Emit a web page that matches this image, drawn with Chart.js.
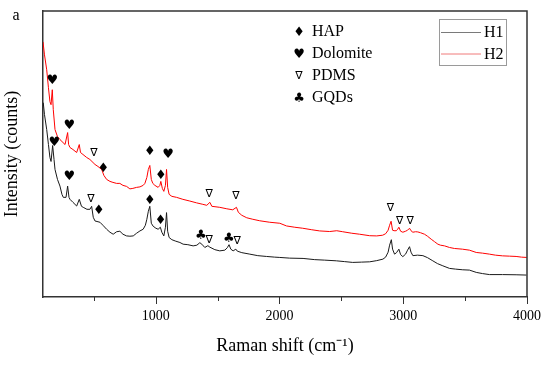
<!DOCTYPE html>
<html><head><meta charset="utf-8">
<script src="https://cdn.jsdelivr.net/npm/chart.js@4"></script>
<style>html,body{margin:0;padding:0;background:#fff}#wrap{width:550px;height:367px;position:relative}</style>
</head><body><div id="wrap"><canvas id="c" width="550" height="367"></canvas></div>
<script>
// ---- data (Raman shift in cm-1, intensity in arbitrary counts) ----
const h1Shift = [92,102,120,134,146,155,168,179,187,207,227,243,254,276,289,300,308,332,362,383,401,415,445,469,483,496,510,550,574,604,631,657,685,711,736,765,792,819,846,873,899,917,929,941,953,965,980,1002,1020,1038,1050,1066,1079,1088,1097,1109,1131,1163,1196,1222,1260,1303,1333,1357,1373,1397,1422,1438,1478,1518,1559,1579,1593,1607,1626,1648,1660,1696,1761,1825,1895,1962,2003,2083,2191,2285,2366,2460,2527,2592,2664,2729,2786,2836,2858,2878,2890,2904,2914,2930,2946,2965,2979,2997,3019,3035,3051,3063,3078,3116,3159,3196,3239,3277,3320,3374,3422,3481,3535,3590,3641,3697,3802,3912,3996];
const h1Intensity = [195,183,168,153,140,136,152,138,128,118,111.3,103,100,100,111.3,100,98,95,91.3,98,91,90,88,88,91,80,76.3,75,72,68,65,63,65.5,66,63,61.3,61,61.3,64,66.3,68,72,78,86,91,74,71,69,68,70,65,61.3,70,84.7,66,59.7,57.5,56,54.7,53,52.5,51.3,52,54.5,53,49.7,51.5,50,47.5,46.3,47,49.5,52.5,48,46.3,48,46,44.5,43,41.5,40.7,40,39.7,39,38.7,37.5,37,36.3,35.5,34.7,35,35.3,36.5,38,40,45,52,57.5,48,43,44.5,48,42.5,40.5,43,47,50.5,45,41.5,42,41.5,39.5,36.3,33.5,31.3,28.7,28,27.3,27,24.7,23.5,22.5,22.5,22.3,22];
const h2Shift = [90,102,120,134,146,155,165,173,187,207,227,268,289,297,308,332,362,383,393,413,443,469,510,534,564,582,604,631,655,685,711,736,765,792,816,846,873,899,913,929,941,953,965,977,994,1020,1034,1042,1054,1066,1079,1088,1097,1109,1131,1169,1220,1276,1330,1381,1413,1438,1454,1518,1575,1623,1653,1668,1696,1736,1785,1841,1922,2003,2057,2124,2188,2261,2325,2406,2463,2511,2584,2648,2729,2786,2834,2858,2878,2890,2902,2914,2926,2944,2955,2965,2979,2997,3019,3035,3051,3063,3078,3100,3118,3140,3172,3196,3226,3253,3280,3301,3334,3374,3414,3478,3535,3590,3641,3697,3745,3802,3858,3912,3955,3998];
const h2Intensity = [256,243,228,210,196,193,208,188,168,161,158,153,165,153,150,148,145,153,145,143,140,138,133,131,128,122,118,116,115,114,114,112,111,108.5,109,110,110.5,112,114,120,128,132,118,114,112,110,112,116,109,106,112,128,110,103,101,100,98,96.3,94.5,93,92,95,91,90,88.5,87.5,90,85,82,79.5,78,76.5,75,74,71.3,70,69,67.5,66.3,65.7,66.5,65.5,64,63,61.5,61.3,62,63.5,67,72,76,67,66.5,66.5,68,70,66,65,66,67,69,66.5,65,65.5,65.3,64.5,63,61,58,55.5,53,52,51.3,49.7,48.7,48,47,44.7,44,43,42,41.3,41,40.7,40,39.7];
const seriesNames = ['H1','H2'];
const xTickValues = [500,1000,1500,2000,2500,3000,3500,4000];
const xLabelValues = [1000,2000,3000,4000];
// band assignment markers (shift, height)
const hapShift = [577,953,1042,542,953,1040];
const hapLevel = [129,146.3,121.3,86.3,96.3,77];
const dolomiteShift = [165,302,1101,181,302];
const dolomiteLevel = [217,172.3,143,154.7,120.7];
const pdmsShift = [502,1432,1648,2896,2971,3057,477,1432,1658];
const pdmsLevel = [144.7,103.7,101.3,88.7,75.7,75.7,98.7,57.3,56.3];
const gqdShift = [1365,1591];
const gqdLevel = [61.3,59];
const bandNames = ['HAP','Dolomite','PDMS','GQDs'];
const bandSymbols = ['\u2666','\u2665','\u2207','\u2663'];

const toXY = (xs, ys) => xs.map((x, i) => ({x: x, y: ys[i]}));
const serif = 'Liberation Serif';
const symFont = 'DejaVu Sans';

const overlay = {
  id: 'overlay',
  afterDraw(chart) {
    const ctx = chart.ctx, xs = chart.scales.x, ys = chart.scales.y, a = chart.chartArea;
    ctx.save();
    // frame top/right
    ctx.strokeStyle = '#333'; ctx.lineWidth = 1.5;
    ctx.beginPath();
    ctx.moveTo(a.left, a.top); ctx.lineTo(a.right, a.top); ctx.lineTo(a.right, a.bottom);
    ctx.stroke();
    // x tick marks
    ctx.lineWidth = 1;
    xs.ticks.forEach(t => {
      const px = Math.round(xs.getPixelForValue(t.value)) + 0.5;
      const len = xLabelValues.includes(t.value) ? 7 : 4;
      ctx.beginPath(); ctx.moveTo(px, a.bottom); ctx.lineTo(px, a.bottom + len); ctx.stroke();
    });
    // band markers
    ctx.fillStyle = '#000'; ctx.textAlign = 'center'; ctx.textBaseline = 'middle';
    const groups = [[hapShift, hapLevel], [dolomiteShift, dolomiteLevel], [pdmsShift, pdmsLevel], [gqdShift, gqdLevel]];
    groups.forEach((g, k) => {
      ctx.font = (k === 2 ? '11px ' : '13px ') + symFont;
      g[0].forEach((s, i) => {
        ctx.fillText(bandSymbols[k], xs.getPixelForValue(s), ys.getPixelForValue(g[1][i]));
      });
    });
    // band legend
    const lx = 299, ly0 = 32, dy = 21.8;
    bandNames.forEach((n, k) => {
      ctx.textAlign = 'center';
      ctx.font = (k === 2 ? '11px ' : '13px ') + symFont;
      ctx.fillText(bandSymbols[k], lx, ly0 + k * dy + 1);
      ctx.textAlign = 'left';
      ctx.font = '16px ' + serif;
      ctx.fillText(n, 312, ly0 + k * dy);
    });
    // series legend box
    ctx.strokeStyle = '#9a9a9a'; ctx.lineWidth = 1;
    ctx.strokeRect(439.5, 19.5, 67, 46);
    const legendColors = ['#7a7a7a', '#f07a7a'];
    seriesNames.forEach((n, k) => {
      const y = 32 + k * 21.5;
      ctx.strokeStyle = legendColors[k];
      ctx.beginPath(); ctx.moveTo(441, y + 0.5); ctx.lineTo(481, y + 0.5); ctx.stroke();
      ctx.fillStyle = '#000'; ctx.textAlign = 'left'; ctx.font = '16px ' + serif;
      ctx.fillText(n, 484, y + 1);
    });
    // panel letter
    ctx.font = '16px ' + serif; ctx.textAlign = 'center';
    ctx.fillText('a', 16, 16);
    ctx.restore();
  }
};

new Chart(document.getElementById('c'), {
  type: 'line',
  data: {
    datasets: [
      {label: seriesNames[0], data: toXY(h1Shift, h1Intensity), borderColor: '#1a1a1a', borderWidth: 1, pointRadius: 0, tension: 0},
      {label: seriesNames[1], data: toXY(h2Shift, h2Intensity), borderColor: '#ff0000', borderWidth: 1, pointRadius: 0, tension: 0}
    ]
  },
  options: {
    responsive: false, animation: false, devicePixelRatio: 1,
    layout: {padding: {left: 0, top: 11, right: 23, bottom: 0}},
    plugins: {legend: {display: false}, tooltip: {enabled: false}},
    scales: {
      x: {
        type: 'linear', min: 90, max: 4000,
        afterBuildTicks: s => { s.ticks = xTickValues.map(v => ({value: v})); },
        afterFit: s => { s.height = 70; },
        ticks: {autoSkip: false, maxRotation: 0, padding: 4, color: '#000', font: {family: serif, size: 14},
          callback: v => xLabelValues.includes(v) ? String(v) : ''},
        grid: {display: false, drawTicks: true, tickLength: 7},
        border: {display: true, color: '#333', width: 1.5},
        title: {display: true, text: 'Raman shift (cm\u207B\u00B9)', color: '#000', font: {family: serif, size: 18}, padding: {top: 0, bottom: 10}}
      },
      y: {
        min: 0, max: 287,
        afterFit: s => { s.width = 43; },
        ticks: {display: false},
        grid: {display: false, drawTicks: false},
        border: {display: true, color: '#333', width: 1.5},
        title: {display: true, text: 'Intensity (counts)', color: '#000', font: {family: serif, size: 18}, padding: {top: 1, bottom: 0}}
      }
    }
  },
  plugins: [overlay]
});
</script></body></html>
